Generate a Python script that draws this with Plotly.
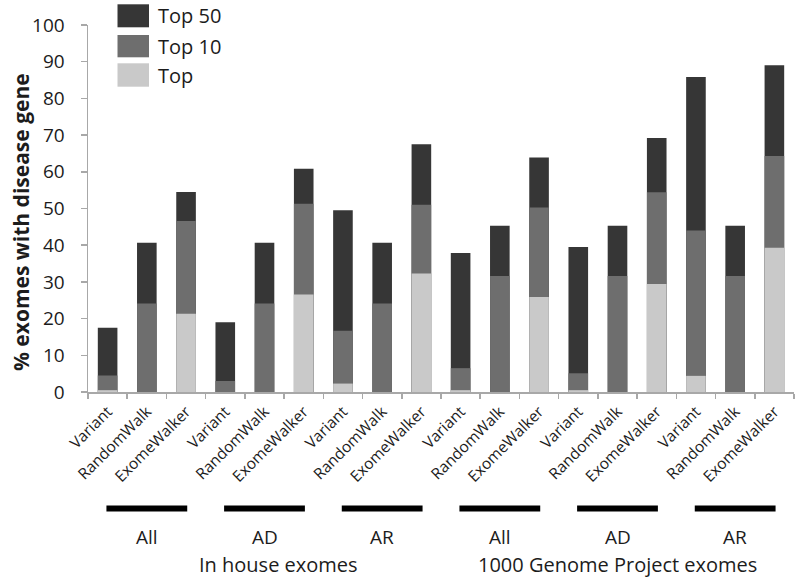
import plotly.graph_objects as go

# ---- data (cumulative % of exomes with disease gene ranked within ...) ----
methods = ["Variant", "RandomWalk", "ExomeWalker"]
inheritance = ["All", "AD", "AR", "All", "AD", "AR"]
datasets = ["In house exomes", "1000 Genome Project exomes"]

top50 = [17.5, 40.7, 54.5, 19.0, 40.7, 60.8, 49.5, 40.7, 67.5,
         37.9, 45.3, 63.9, 39.5, 45.3, 69.2, 85.8, 45.3, 89.0]
top10 = [4.5, 24.1, 46.6, 3.0, 24.1, 51.3, 16.7, 24.1, 51.0,
         6.5, 31.6, 50.3, 5.1, 31.6, 54.4, 44.0, 31.6, 64.3]
top1 = [0.5, 0.0, 21.3, 0.0, 0.0, 26.6, 2.3, 0.0, 32.3,
        0.5, 0.0, 25.9, 0.5, 0.0, 29.4, 4.4, 0.0, 39.3]

series_names = ["Top 50", "Top 10", "Top"]
series_colors = ["#363636", "#6e6e6e", "#c9c9c9"]

tick_labels = methods * len(inheritance)
xpos = list(range(len(tick_labels)))

# ---- geometry helpers ----
W, H = 800, 582
ML, MR, MT, MB = 88, 6, 25, 190
FONT = "Open Sans"
TXT = "#1c1c1c"
AXC = "#a8a8a8"


def fx(px):
    return (px - ML) / (W - ML - MR)


def fy(py):
    return (H - MB - py) / (H - MT - MB)


fig = go.Figure()
for name, vals, col in zip(series_names, [top50, top10, top1], series_colors):
    fig.add_trace(go.Bar(x=xpos, y=vals, name=name, width=0.5,
                         marker=dict(color=col, line=dict(width=0)),
                         showlegend=False))

shapes = []
annotations = []

# custom legend (large square swatches)
leg_boxes = [(4.3, 27.3), (35.0, 57.3), (63.3, 86.7)]
for (y0, y1), name, col in zip(leg_boxes, series_names, series_colors):
    shapes.append(dict(type="rect", xref="paper", yref="paper",
                       x0=fx(117.5), x1=fx(149), y0=fy(y1), y1=fy(y0),
                       fillcolor=col, line=dict(width=0)))
    annotations.append(dict(xref="paper", yref="paper", x=fx(156),
                            y=fy((y0 + y1) / 2), text=name, showarrow=False,
                            xanchor="left", yanchor="middle",
                            font=dict(family=FONT, size=20, color=TXT)))

# group bars and labels
for g, lab in enumerate(inheritance):
    c = 3 * g + 1
    shapes.append(dict(type="line", xref="x", yref="paper",
                       x0=c - 1.03, x1=c + 1.03, y0=fy(508.5), y1=fy(508.5),
                       line=dict(color="black", width=6)))
    annotations.append(dict(xref="x", yref="paper", x=c, y=fy(537),
                            text=lab, showarrow=False, xanchor="center",
                            yanchor="middle",
                            font=dict(family=FONT, size=19, color=TXT)))

for txt, cx in zip(datasets, [278, 617]):
    annotations.append(dict(xref="paper", yref="paper", x=fx(cx), y=fy(564),
                            text=txt, showarrow=False, xanchor="center",
                            yanchor="middle",
                            font=dict(family=FONT, size=20, color=TXT)))

# y-axis title
annotations.append(dict(xref="paper", yref="paper", x=fx(21), y=fy(222),
                        text="<b>% exomes with disease gene</b>",
                        textangle=-90, showarrow=False, xanchor="center",
                        yanchor="middle",
                        font=dict(family=FONT, size=21, color=TXT)))

fig.update_layout(
    width=W, height=H,
    margin=dict(l=ML, r=MR, t=MT, b=MB),
    paper_bgcolor="white", plot_bgcolor="white",
    barmode="overlay",
    showlegend=False,
    shapes=shapes,
    annotations=annotations,
    xaxis=dict(range=[-0.5, len(xpos) - 0.5], tickmode="array",
               tickvals=xpos, ticktext=tick_labels, tickangle=-45,
               tickfont=dict(family=FONT, size=15.5, color=TXT),
               showline=True, linecolor=AXC, linewidth=1.5,
               ticks="outside", ticklen=3, tickcolor="rgba(0,0,0,0)",
               minor=dict(ticks="outside", tickmode="array",
                          tickvals=[i - 0.5 for i in range(len(xpos) + 1)],
                          ticklen=5, tickcolor=AXC, tickwidth=1.5),
               showgrid=False, zeroline=False, fixedrange=True),
    yaxis=dict(range=[0, 100], tickmode="array",
               tickvals=list(range(0, 101, 10)),
               tickfont=dict(family=FONT, size=19, color=TXT),
               showline=True, linecolor=AXC, linewidth=1.5,
               ticks="outside", ticklen=6, tickcolor=AXC, tickwidth=1.5,
               ticklabelstandoff=12,
               showgrid=False, zeroline=False, fixedrange=True),
)

fig.write_html(
    "out.html",
    config={"displayModeBar": False, "staticPlot": True},
    post_script="document.body.style.margin='0';"
                "document.body.style.overflow='hidden';",
)
